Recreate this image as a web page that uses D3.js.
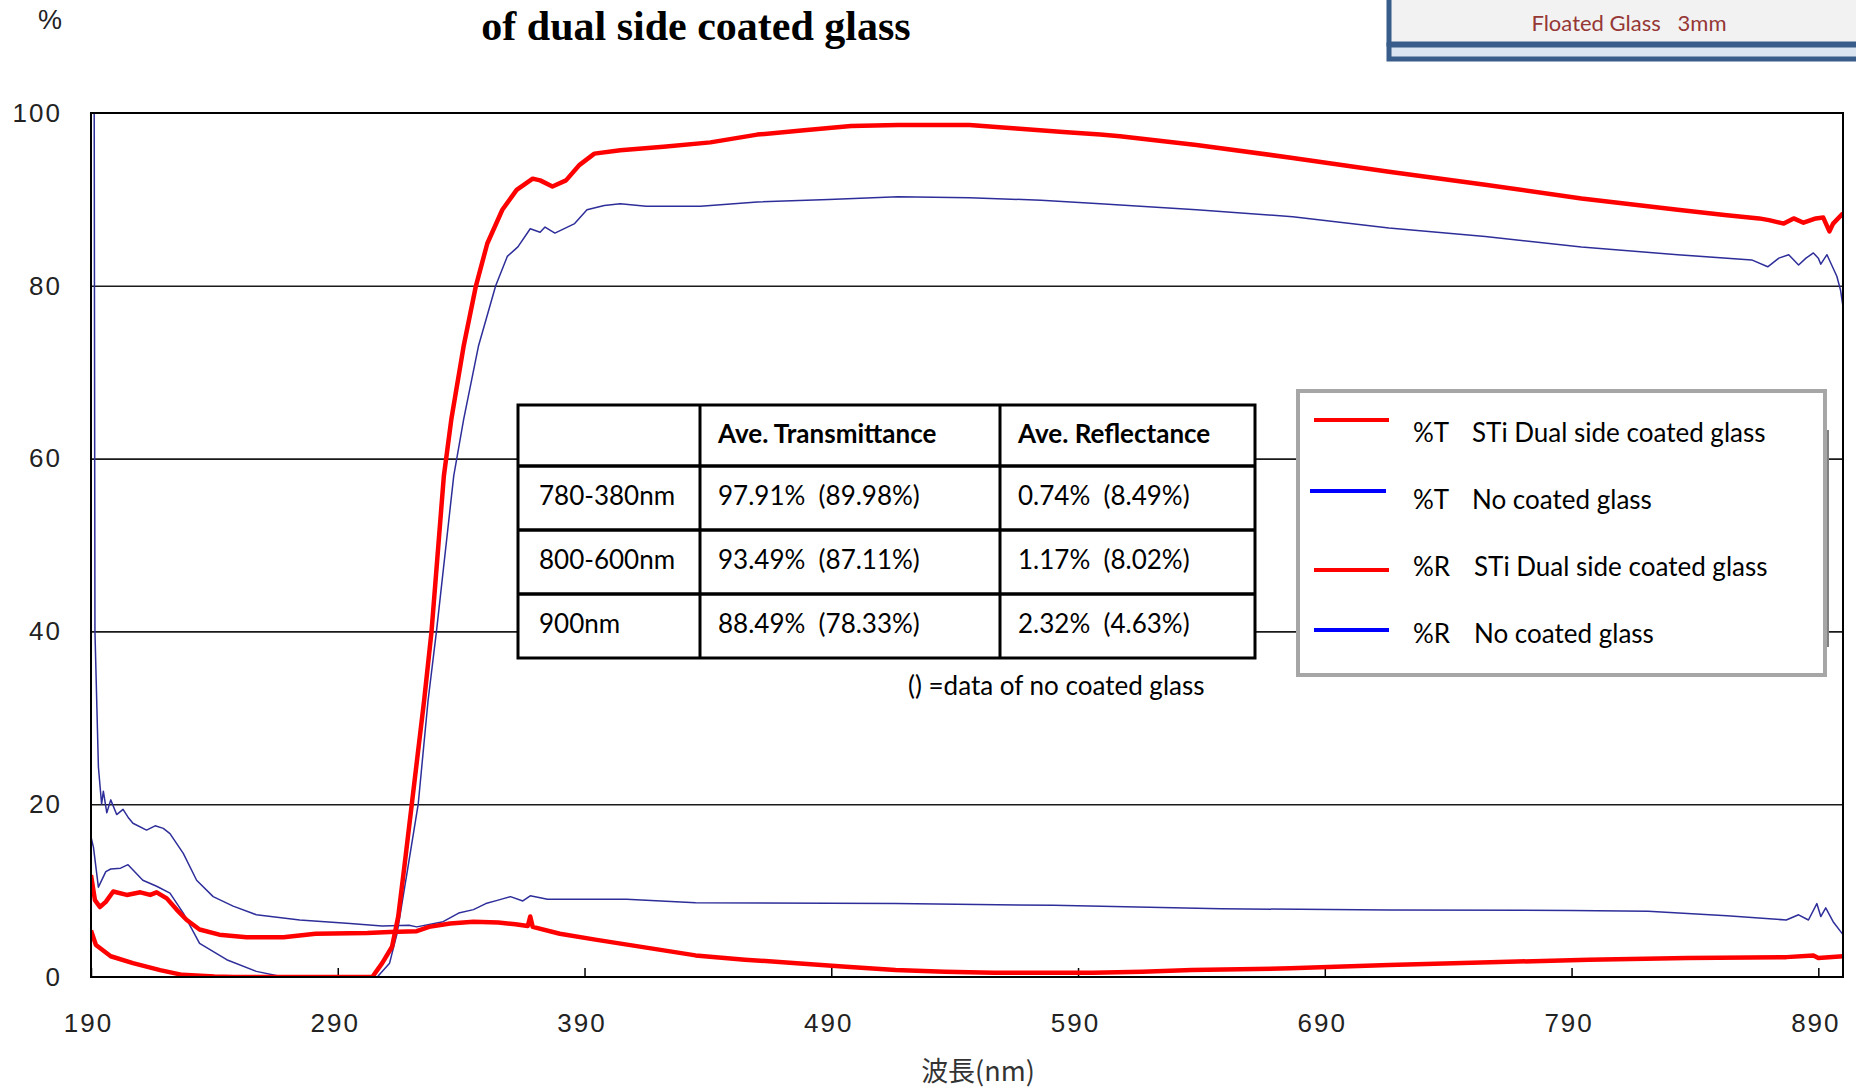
<!DOCTYPE html>
<html>
<head>
<meta charset="utf-8">
<script src="https://cdn.jsdelivr.net/npm/d3@7"></script>
<style>
  body { margin: 0; background: #fff; }
  svg text { white-space: pre; }
</style>
</head>
<body>
<svg id="chart" width="1856" height="1088"></svg>
<script>
// ticks
var xTicks = [190, 290, 390, 490, 590, 690, 790, 890];
var yTicks = [0, 20, 40, 60, 80, 100];

// %T STi dual side coated glass  [nm, %]
var tCoated = [[190,5.4],[192,3.7],[198,2.4],[207,1.6],[218,0.8],[227,0.25],[240,0.05],[248,0],[304,0],
  [308,1.6],[312,3.5],[314.5,7],[317,12.8],[320,20],[325,32],[328,40],[333,58],[336,64.5],[341,73],[346,80],
  [350.6,84.9],[356.7,88.8],[362.5,91.1],[369,92.4],[372,92.2],[377,91.5],[382.5,92.2],[388,94],[394,95.3],
  [404.5,95.7],[422,96.1],[441,96.6],[460,97.5],[479,98],[498,98.5],[517,98.6],[546,98.6],[565,98.2],
  [584,97.8],[599,97.5],[607,97.3],[638,96.3],[677,94.8],[716,93.2],[755,91.7],[794,90.1],[833,88.8],
  [852,88.2],[866,87.8],[870,87.6],[876,87.2],[880,87.8],[884,87.3],[889,87.8],[892,87.9],[894.5,86.3],
  [896,87.2],[900,88.4]];

// %T no coated glass
var tPlain = [[190,16.2],[191,15],[193,10.4],[196,12.2],[198,12.5],[202,12.6],[205,13],[211,11.2],[216.6,10.5],
  [222,9.7],[227.4,7.4],[234,3.9],[245,2.0],[257,0.65],[268,0],[306,0],[311,1.6],[314,5.0],[318.5,12.8],[322.6,20],
  [326.6,32],[330,40],[337,58],[341,64.5],[347,73],[354,80],[358.7,83.4],[363,84.5],[368,86.6],[372,86.2],
  [374,86.8],[378,86.1],[386,87.2],[391,88.8],[398,89.3],[404.5,89.5],[415,89.2],[437,89.2],[460,89.7],
  [489,90],[517,90.3],[546,90.2],[575,89.9],[599,89.5],[638,88.8],[677,88.0],[716,86.7],[755,85.7],
  [794,84.5],[833,83.6],[863,83.0],[869.5,82.2],[874,83.2],[878,83.6],[882,82.4],[885,83.2],[888,83.8],
  [890,83.2],[891,82.5],[893.5,83.6],[897.5,81.1],[899,79.5],[900,77.6]];

// %R STi dual side coated glass
var rCoated = [[190,11.8],[191.6,8.9],[193.6,8.1],[196,8.7],[199,9.9],[204.5,9.5],[210,9.8],[214,9.5],
  [216.6,9.8],[220.7,9.1],[224.7,7.8],[228.8,6.6],[234,5.5],[242,4.9],[253,4.6],[268,4.6],[281,5.0],
  [302,5.1],[311,5.2],[322,5.3],[327,5.8],[335.5,6.2],[345,6.4],[355,6.3],[362,6.1],[367,5.9],[368,7.0],
  [369,5.8],[380,5.0],[395,4.3],[415,3.4],[435,2.5],[455,2.0],[476,1.6],[496,1.2],[516,0.8],[536,0.6],
  [556,0.5],[596,0.5],[616,0.6],[636,0.8],[676,1.0],[716,1.4],[757,1.7],[797,2.0],[837,2.2],[877,2.3],
  [888,2.5],[890,2.2],[900,2.4]];

// %R no coated glass
var rPlain = [[190,100],[191.3,100],[191.6,40],[193,24.3],[194.3,20],[195,21.5],[196.4,19],[198,20.5],
  [200.4,18.8],[203,19.4],[205,18.5],[207,17.8],[212.5,17.0],[216,17.5],[219.3,17.2],[222,16.6],[227.4,14.3],
  [232.8,11.2],[239.5,9.3],[247.6,8.2],[257,7.2],[274.6,6.6],[295,6.2],[308,5.9],[318.9,6.0],[322,5.8],
  [332.7,6.4],[339,7.4],[345,7.8],[350,8.5],[355,8.9],[360,9.3],[365,8.8],[368,9.4],[375,9.0],[407,9.0],
  [435,8.6],[516,8.5],[580,8.3],[648,7.9],[716,7.75],[790,7.7],[821,7.6],[853,7.1],[877,6.6],[882,7.2],
  [886,6.6],[889.4,8.5],[891,7.0],[893,8.0],[896,6.4],[900,4.9]];

// summary table
var tableHeader = ["", "Ave. Transmittance", "Ave. Reflectance"];
var tableRows = [
  ["780-380nm", "97.91%  (89.98%)", "0.74%  (8.49%)"],
  ["800-600nm", "93.49%  (87.11%)", "1.17%  (8.02%)"],
  ["900nm",     "88.49%  (78.33%)", "2.32%  (4.63%)"]
];

// legend
var legendMarks = ["%T", "%T", "%R", "%R"];
var legendNames = ["STi Dual side coated glass", "No coated glass", "STi Dual side coated glass", "No coated glass"];

var svg = d3.select("#chart");
var plot = {left: 91, top: 113, right: 1843, bottom: 977};

var x = d3.scaleLinear().domain([190, 900]).range([plot.left, plot.right]);
var y = d3.scaleLinear().domain([0, 100]).range([plot.bottom, plot.top]);

var axisFont = "'Liberation Sans', Arial, sans-serif";
var bodyFont = "Lato, 'Open Sans', sans-serif";

// header box top right
var hdr = svg.append("g");
hdr.append("rect").attr("x", 1389).attr("y", -3).attr("width", 480).attr("height", 47)
  .attr("fill", "#f2f2f2").attr("stroke", "#385d8a").attr("stroke-width", 5);
hdr.append("rect").attr("x", 1389).attr("y", 45).attr("width", 480).attr("height", 14)
  .attr("fill", "#dbe5f1").attr("stroke", "#385d8a").attr("stroke-width", 5);
hdr.append("text").attr("x", 1629).attr("y", 31).attr("text-anchor", "middle")
  .attr("font-family", bodyFont).attr("font-size", 22).attr("fill", "#953735")
  .text("Floated Glass   3mm");

// title and unit
svg.append("text").attr("x", 696).attr("y", 40).attr("text-anchor", "middle")
  .attr("font-family", "'Liberation Serif', 'Times New Roman', serif").attr("font-weight", "bold")
  .attr("font-size", 42).attr("fill", "#000").text("of dual side coated glass");
svg.append("text").attr("x", 50).attr("y", 29).attr("text-anchor", "middle")
  .attr("font-family", axisFont).attr("font-size", 27).attr("fill", "#222").text("%");

// grid
var grid = svg.append("g").attr("transform", "translate(" + plot.left + ",0)")
  .call(d3.axisLeft(y).tickValues([20, 40, 60, 80]).tickSize(-(plot.right - plot.left)).tickFormat(""));
grid.select(".domain").remove();
grid.selectAll("line").attr("stroke", "#1a1a1a").attr("stroke-width", 1.6);

// y labels
var ya = svg.append("g").attr("transform", "translate(" + plot.left + ",0)")
  .call(d3.axisLeft(y).tickValues(yTicks).tickSize(0).tickPadding(29));
ya.select(".domain").remove();
ya.selectAll("text").attr("font-family", axisFont).attr("font-size", 26)
  .attr("fill", "#222").attr("letter-spacing", 2);

// x axis
var xa = svg.append("g").attr("transform", "translate(0," + plot.bottom + ")")
  .call(d3.axisBottom(x).tickValues(xTicks).tickSize(-9).tickPadding(37));
xa.select(".domain").remove();
xa.selectAll("line").attr("stroke", "#000").attr("stroke-width", 1.5);
xa.selectAll("text").attr("font-family", axisFont).attr("font-size", 26)
  .attr("fill", "#222").attr("letter-spacing", 2).attr("dx", -3);

svg.append("text").attr("x", 978).attr("y", 1081).attr("text-anchor", "middle")
  .attr("font-family", "'Noto Sans CJK JP', sans-serif").attr("font-size", 27).attr("fill", "#333")
  .text("波長(nm)");

// curves
svg.append("defs").append("clipPath").attr("id", "plotclip")
  .append("rect").attr("x", plot.left).attr("y", plot.top - 2)
  .attr("width", plot.right - plot.left).attr("height", plot.bottom - plot.top + 2);

var line = d3.line().x(function(d) { return x(d[0]); }).y(function(d) { return y(d[1]); });
var curves = svg.append("g").attr("clip-path", "url(#plotclip)");
[tPlain, rPlain].forEach(function(s) {
  curves.append("path").datum(s).attr("d", line).attr("fill", "none")
    .attr("stroke", "#2e2e9a").attr("stroke-width", 1.5).attr("stroke-linejoin", "round");
});
[rCoated, tCoated].forEach(function(s) {
  curves.append("path").datum(s).attr("d", line).attr("fill", "none")
    .attr("stroke", "#ff0000").attr("stroke-width", 4.5).attr("stroke-linejoin", "round");
});

// frame
svg.append("rect").attr("x", plot.left).attr("y", plot.top)
  .attr("width", plot.right - plot.left).attr("height", plot.bottom - plot.top)
  .attr("fill", "none").attr("stroke", "#000").attr("stroke-width", 2);

// table
var colX = [518, 700, 1000, 1255];
var rowY = [405, 466, 530, 594, 658];
var tbl = svg.append("g");
tbl.append("rect").attr("x", colX[0]).attr("y", rowY[0])
  .attr("width", colX[3] - colX[0]).attr("height", rowY[4] - rowY[0])
  .attr("fill", "#fff").attr("stroke", "#000").attr("stroke-width", 3);
colX.slice(1, 3).forEach(function(cx) {
  tbl.append("line").attr("x1", cx).attr("x2", cx).attr("y1", rowY[0]).attr("y2", rowY[4])
    .attr("stroke", "#000").attr("stroke-width", 3);
});
rowY.slice(1, 4).forEach(function(ry) {
  tbl.append("line").attr("x1", colX[0]).attr("x2", colX[3]).attr("y1", ry).attr("y2", ry)
    .attr("stroke", "#000").attr("stroke-width", 3.5);
});
var cells = [tableHeader].concat(tableRows);
cells.forEach(function(row, ri) {
  row.forEach(function(txt, ci) {
    tbl.append("text").attr("x", colX[ci] + (ci === 0 ? 21 : 18))
      .attr("y", (rowY[ri] + rowY[ri + 1]) / 2 - 2).attr("dy", "0.35em")
      .attr("font-family", bodyFont).attr("font-size", 26)
      .attr("font-weight", ri === 0 ? "bold" : "normal").attr("fill", "#000").text(txt);
  });
});
svg.append("text").attr("x", 908).attr("y", 686).attr("dy", "0.35em")
  .attr("font-family", bodyFont).attr("font-size", 26).attr("fill", "#000")
  .text("() =data of no coated glass");

// legend
var legendColor = ["#ff0000", "#0000ff", "#ff0000", "#0000ff"];
var lg = svg.append("g");
lg.append("rect").attr("x", 1826).attr("y", 430).attr("width", 3).attr("height", 217).attr("fill", "#808080");
lg.append("rect").attr("x", 1298).attr("y", 391).attr("width", 527).attr("height", 284)
  .attr("fill", "#fff").attr("stroke", "#a6a6a6").attr("stroke-width", 4);
var lineY = [420, 491, 570, 630], textY = [433, 500, 567, 634];
legendMarks.forEach(function(m, i) {
  lg.append("line").attr("x1", i === 1 ? 1310 : 1314).attr("x2", i === 1 ? 1386 : 1389)
    .attr("y1", lineY[i]).attr("y2", lineY[i])
    .attr("stroke", legendColor[i]).attr("stroke-width", 4);
  lg.append("text").attr("x", 1413).attr("y", textY[i]).attr("dy", "0.35em")
    .attr("font-family", bodyFont).attr("font-size", 26).attr("fill", "#000").text(m);
  lg.append("text").attr("x", i < 2 ? 1472 : 1474).attr("y", textY[i]).attr("dy", "0.35em")
    .attr("font-family", bodyFont).attr("font-size", 26).attr("fill", "#000").text(legendNames[i]);
});
</script>
</body>
</html>
